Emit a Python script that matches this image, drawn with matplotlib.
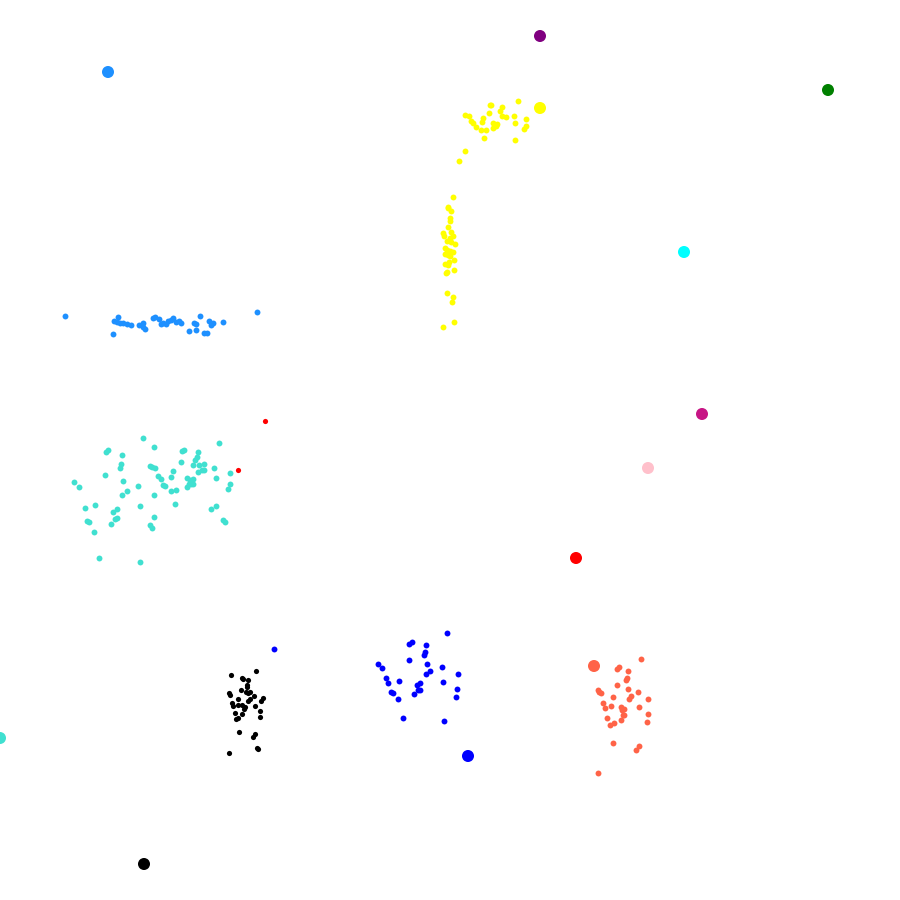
import numpy as np
import matplotlib.pyplot as plt

# puntos de cada grupo (x, y) en unidades de la grilla 0-50, y hacia abajo
yellow_x = [28.76, 27.22, 27.28, 27.87, 27.78, 27.17, 25.85, 26.04, 26.85, 27.91, 28.09, 28.54, 29.21,
            26.17, 26.29, 26.76, 27.41, 27.59, 27.56, 28.61, 26.44, 27.41, 29.21, 29.11, 26.71, 26.98,
            26.89, 28.63, 25.85, 25.52,
            25.17, 24.87, 24.91, 25.04, 25.0, 25.0, 24.87, 24.63, 24.65, 25.04, 25.15, 25.0, 24.85,
            25.07, 25.26, 24.71, 24.82, 25.0, 25.15, 24.74, 24.91, 24.98, 25.24, 24.96, 24.74, 24.87,
            25.22, 24.82, 24.78, 24.82, 25.15, 25.09, 25.21, 24.63]
yellow_y = [5.63, 5.85, 5.83, 5.93, 6.15, 6.28, 6.39, 6.46, 6.56, 6.44, 6.52, 6.44, 6.63,
            6.74, 6.83, 6.79, 6.82, 6.91, 7.0, 6.82, 7.06, 7.11, 6.98, 7.18, 7.24, 7.22,
            7.68, 7.76, 8.41, 8.96,
            10.94, 11.48, 11.57, 11.71, 12.13, 12.28, 12.59, 12.96, 13.09, 12.87, 13.09, 13.24, 13.39,
            13.43, 13.54, 13.79, 13.91, 13.94, 14.0, 14.09, 14.17, 14.24, 14.46, 14.54, 14.67, 14.72,
            14.98, 15.13, 15.18, 16.29, 16.5, 16.76, 17.87, 18.17]

dodger_x = [3.63, 14.26, 6.29, 6.54, 6.33, 6.48, 6.67, 6.85, 7.07, 7.29, 7.74, 7.93, 8.04, 7.96,
            8.48, 8.63, 8.82, 8.93, 9.07, 9.22, 9.35, 9.5, 9.63, 9.78, 9.96, 10.04, 10.78, 10.89,
            11.09, 10.52, 10.89, 11.63, 11.82, 11.72, 12.39, 11.33, 11.48]
dodger_y = [17.57, 17.32, 18.57, 17.63, 17.83, 17.87, 17.93, 17.96, 18.0, 18.07, 18.06, 17.94, 18.29, 18.15,
            17.68, 17.63, 17.74, 18.0, 17.93, 18.0, 17.82, 17.78, 17.67, 17.89, 17.83, 17.93, 17.93, 18.0,
            17.56, 18.37, 18.33, 17.82, 17.93, 18.06, 17.91, 18.5, 18.52]

turq_x = [7.96, 8.54, 5.89, 6.02, 6.78, 6.74, 6.65, 8.33, 8.46, 8.61, 5.85, 8.78, 4.11, 4.37, 6.83,
          7.68, 6.78, 7.04, 8.56, 5.29, 4.71, 7.76, 6.48, 6.29, 6.48, 6.37, 4.85, 4.96, 6.15, 8.56,
          8.33, 8.46, 5.24, 5.5, 7.79, 12.18, 10.09, 10.22, 11.02, 10.93, 10.83, 10.06, 10.71, 11.06,
          11.33, 11.91, 9.63, 11.24, 11.35, 10.98, 12.78, 8.93, 9.52, 10.37, 10.56, 10.71, 11.98,
          10.63, 10.5, 10.72, 9.07, 9.15, 12.76, 10.37, 12.67, 9.48, 9.79, 9.72, 12.02, 11.74, 12.39, 12.5]
turq_y = [24.32, 24.83, 25.13, 25.02, 25.26, 25.79, 26.02, 25.87, 25.96, 26.02, 26.41, 26.44, 26.76, 27.04, 26.72,
          27.0, 27.5, 27.29, 27.52, 28.06, 28.21, 28.13, 28.29, 28.43, 28.76, 28.82, 28.96, 29.02, 29.11, 28.71,
          29.17, 29.35, 29.56, 30.98, 31.22, 24.63, 25.06, 24.98, 25.11, 25.41, 25.54, 25.67, 25.82, 25.85,
          25.76, 25.98, 26.17, 26.13, 26.11, 26.22, 26.26, 26.59, 26.52, 26.54, 26.68, 26.61, 26.56,
          26.87, 26.91, 26.91, 26.96, 27.02, 26.87, 27.06, 27.18, 27.28, 27.22, 28.0, 28.13, 28.28, 28.89, 29.0]

red_x = [14.72, 13.24]
red_y = [23.39, 26.09]

black_x = [12.82, 14.22, 13.43, 13.48, 13.78, 13.74, 13.71, 13.41, 13.65, 13.79, 13.91, 12.72, 12.79,
           14.09, 14.63, 14.48, 13.89, 13.79, 13.21, 12.91, 12.94, 13.46, 13.61, 13.56, 13.24, 14.15,
           14.44, 13.06, 13.46, 14.43, 13.24, 13.13, 13.28, 14.17, 14.04, 14.29, 14.35, 12.74]
black_y = [37.48, 37.29, 37.65, 37.74, 37.78, 38.04, 38.15, 38.33, 38.46, 38.52, 38.44, 38.52, 38.61,
           38.67, 38.76, 38.93, 38.82, 38.93, 38.85, 39.07, 39.22, 39.15, 39.29, 39.41, 39.18, 39.22,
           39.5, 39.63, 39.67, 39.82, 39.87, 39.94, 40.65, 40.79, 40.96, 41.54, 41.63, 41.85]

blue_x = [15.21, 24.83, 22.74, 22.87, 23.67, 23.61, 23.54, 22.72, 23.71, 21.0, 21.24, 24.56, 23.91, 23.65,
          25.44, 21.43, 21.57, 22.17, 24.63, 23.35, 23.17, 23.33, 23.21, 25.41, 21.72, 21.82, 23.02,
          25.33, 22.11, 22.37, 24.67]
blue_y = [36.06, 35.18, 35.78, 35.68, 35.85, 36.24, 36.39, 36.65, 36.89, 36.91, 37.11, 37.07, 37.28, 37.43,
          37.44, 37.68, 37.93, 37.82, 37.87, 37.96, 38.07, 38.33, 38.35, 38.28, 38.46, 38.5, 38.57,
          38.72, 38.85, 39.89, 40.07]

tomato_x = [35.63, 34.29, 34.41, 34.87, 34.85, 34.79, 34.29, 34.91, 33.21, 33.28, 33.37, 35.44, 35.06,
            34.93, 34.04, 36.02, 33.48, 33.59, 33.94, 34.5, 34.57, 34.68, 35.5, 33.7, 34.61, 34.68,
            34.48, 36.0, 35.93, 33.91, 34.13, 34.07, 35.52, 35.33, 33.21]
tomato_y = [36.61, 37.18, 37.07, 37.26, 37.65, 37.79, 38.06, 38.29, 38.32, 38.44, 38.52, 38.46, 38.67,
            38.83, 38.72, 38.85, 39.07, 39.33, 39.21, 39.26, 39.44, 39.37, 39.28, 39.87, 39.74, 39.7,
            39.98, 39.68, 40.13, 40.28, 40.18, 41.28, 41.46, 41.68, 42.94]

# centroides (puntos grandes)
centers_x = [6, 30, 46, 30, 38, 39, 36, 32, 33, 26, 0, 8]
centers_y = [4, 2, 5, 6, 14, 23, 26, 31, 37, 42, 41, 48]
centers_c = ['dodgerblue', 'purple', 'green', 'yellow', 'cyan', 'mediumvioletred',
             'pink', 'red', 'tomato', 'blue', 'turquoise', 'black']

fig = plt.figure(figsize=(9, 9), dpi=100)
ax = fig.add_axes([0, 0, 1, 1])

ax.scatter(yellow_x, yellow_y, s=18, c='yellow', linewidths=0)
ax.scatter(dodger_x, dodger_y, s=18, c='dodgerblue', linewidths=0)
ax.scatter(turq_x, turq_y, s=18, c='turquoise', linewidths=0)
ax.scatter(red_x, red_y, s=14, c='red', linewidths=0)
ax.scatter(black_x, black_y, s=14, c='black', linewidths=0)
ax.scatter(blue_x, blue_y, s=18, c='blue', linewidths=0)
ax.scatter(tomato_x, tomato_y, s=18, c='tomato', linewidths=0)
ax.scatter(centers_x, centers_y, s=75, c=centers_c, linewidths=0)

ax.set_xlim(0, 50)
ax.set_ylim(50, 0)
ax.axis('off')

plt.savefig('out.png', dpi=100)
